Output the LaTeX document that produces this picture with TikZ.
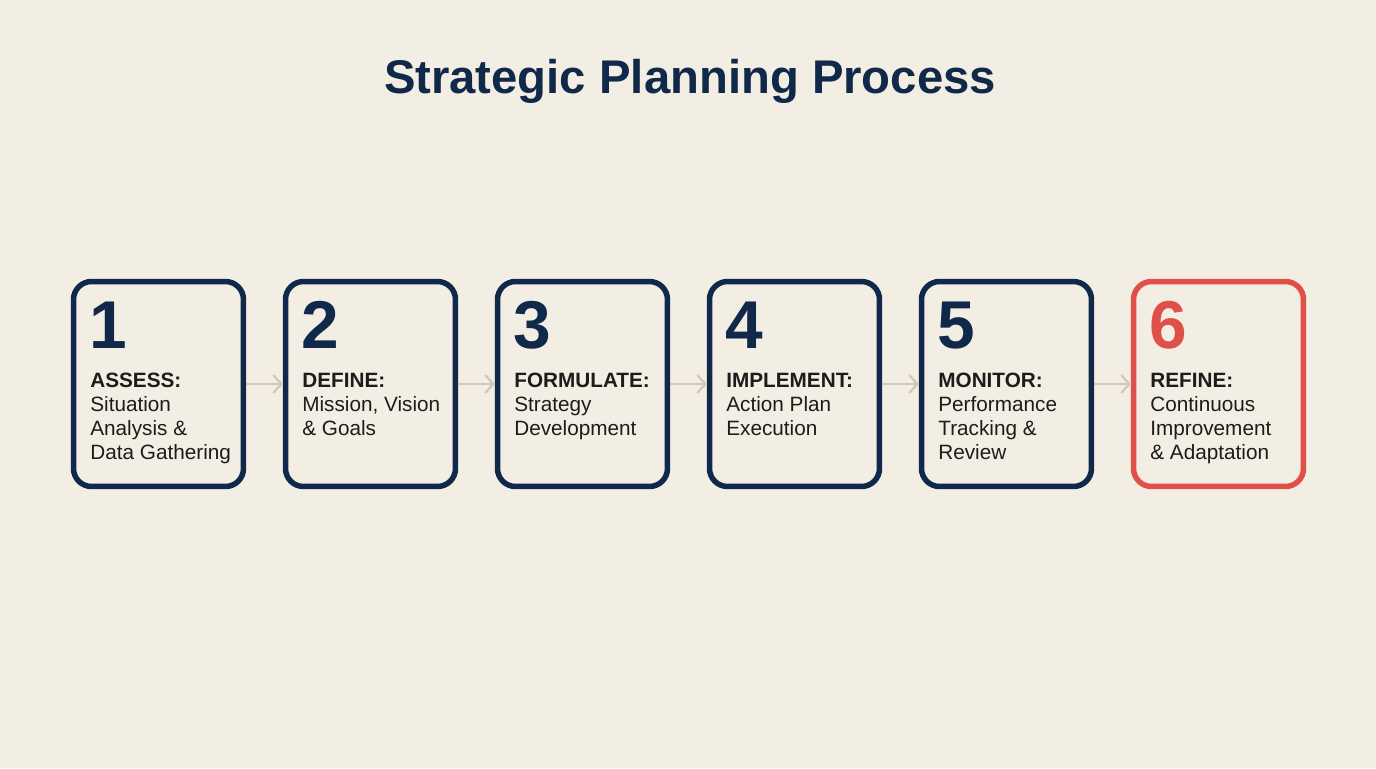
\documentclass[tikz,border=0pt]{standalone}
\usepackage{fontspec}
\setmainfont{Liberation Sans}
\usetikzlibrary{arrows.meta}
\definecolor{paper}{HTML}{F3EEE3}
\definecolor{navy}{HTML}{10294A}
\definecolor{coral}{HTML}{DF5049}
\definecolor{ink}{HTML}{1C1C1C}
\definecolor{pale}{HTML}{D3C8B7}
\tikzset{
  stage/.style={draw=navy, line width=0.11cm, rounded corners=0.36cm,
    minimum width=3.4cm, minimum height=4.1cm},
  num/.style={anchor=base west, inner sep=0pt, text=navy,
    font=\fontsize{38.5}{40}\selectfont\bfseries},
  desc/.style={anchor=north west, inner sep=0pt, align=left, text=ink,
    font=\fontsize{11.8}{13.6}\selectfont},
  flow/.style={draw=pale, line width=0.045cm, -{Straight Barb[length=0.16cm,width=0.36cm]}}
}
\begin{document}
\begin{tikzpicture}[x=0.02cm,y=-0.02cm]
    \useasboundingbox[fill=paper] (0,0) rectangle (1376,768);
    \node(title) at (690,93) [anchor=base, text=navy, font=\fontsize{26.9}{30}\selectfont\bfseries] {Strategic Planning Process};
    % stage boxes
    \node[stage](b1) at (158.5,384) {};
    \node[stage](b2) at (370.5,384) {};
    \node[stage](b3) at (582.5,384) {};
    \node[stage](b4) at (794.5,384) {};
    \node[stage](b5) at (1006.5,384) {};
    \node[stage,draw=coral](b6) at (1218.5,384) {};
    % numbers
    \node[num](n1) at (89,348) {1};
    \node[num](n2) at (301,348) {2};
    \node[num](n3) at (513,348) {3};
    \node[num](n4) at (725,348) {4};
    \node[num](n5) at (937,348) {5};
    \node[num,text=coral](n6) at (1149,348) {6};
    % descriptions
    \node[desc](t1) at (90,373) {\textbf{ASSESS:}\\Situation\\Analysis \&\\Data Gathering};
    \node[desc](t2) at (302,373) {\textbf{DEFINE:}\\Mission, Vision\\\& Goals};
    \node[desc](t3) at (514,373) {\textbf{FORMULATE:}\\Strategy\\Development};
    \node[desc](t4) at (726,373) {\textbf{IMPLEMENT:}\\Action Plan\\Execution};
    \node[desc](t5) at (938,373) {\textbf{MONITOR:}\\Performance\\Tracking \&\\Review};
    \node[desc](t6) at (1150,373) {\textbf{REFINE:}\\Continuous\\Improvement\\\& Adaptation};
    % connectors
    \draw[flow](b1.east)--(b2.west);
    \draw[flow](b2.east)--(b3.west);
    \draw[flow](b3.east)--(b4.west);
    \draw[flow](b4.east)--(b5.west);
    \draw[flow](b5.east)--(b6.west);
\end{tikzpicture}
\end{document}
